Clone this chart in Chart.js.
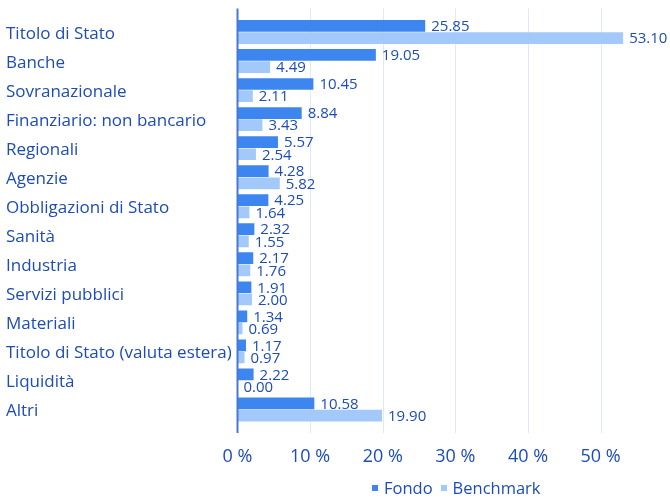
<!DOCTYPE html>
<html>
<head>
<meta charset="utf-8">
<script src="https://cdn.jsdelivr.net/npm/chart.js@4/dist/chart.umd.min.js"></script>
<style>
  html, body { margin: 0; padding: 0; background: #fff; }
  #wrap { position: relative; width: 670px; height: 498px; }
  #legend { position: absolute; left: 372px; top: 477px; }
  #legend ul { list-style: none; margin: 0; padding: 0; display: flex; }
</style>
</head>
<body>
<div id="wrap">
  <canvas id="chart" width="670" height="498"></canvas>
  <div id="legend"><ul></ul></div>
</div>
<script>
// Data
const categories = [
  'Titolo di Stato', 'Banche', 'Sovranazionale', 'Finanziario: non bancario',
  'Regionali', 'Agenzie', 'Obbligazioni di Stato', 'Sanità', 'Industria',
  'Servizi pubblici', 'Materiali', 'Titolo di Stato (valuta estera)', 'Liquidità', 'Altri',
];
const fondo = [25.85, 19.05, 10.45, 8.84, 5.57, 4.28, 4.25, 2.32, 2.17, 1.91, 1.34, 1.17, 2.22, 10.58];
const benchmark = [53.10, 4.49, 2.11, 3.43, 2.54, 5.82, 1.64, 1.55, 1.76, 2.00, 0.69, 0.97, 0.00, 19.90];
const xTicks = [0, 10, 20, 30, 40, 50];

const textColor = '#1d4cb8';
const gridColor = '#dce9fb';
const axisColor = '#4479d6';
const fontFamily = '"Open Sans", "Noto Sans", sans-serif';
const overhang = 9;

const ctx = document.getElementById('chart');

new Chart(ctx, {
  type: 'bar',
  data: {
    labels: categories,
    datasets: [
      // Dark blue bars
      {
        label: 'Fondo',
        data: fondo,
        backgroundColor: '#3d86f0',
        categoryPercentage: 0.84,
        barPercentage: 0.96,
      },
      // Light blue bars
      {
        label: 'Benchmark',
        data: benchmark,
        backgroundColor: '#a3c9fb',
        categoryPercentage: 0.84,
        barPercentage: 0.96,
      },
    ],
  },
  options: {
    indexAxis: 'y',
    responsive: false,
    animation: false,
    layout: {
      padding: { left: 6, right: 4, top: 17.5, bottom: 0 },
    },
    scales: {
      x: {
        min: 0,
        max: 59,
        afterBuildTicks: (scale) => {
          scale.ticks = xTicks.map((v) => ({ value: v }));
        },
        afterFit: (scale) => { scale.height = 74; },
        grid: { display: false, drawTicks: false },
        border: { display: false },
        ticks: {
          color: textColor,
          font: { family: fontFamily, size: 18 },
          padding: 22,
          maxRotation: 0,
          callback: (value) => value + ' %',
        },
      },
      y: {
        afterFit: (scale) => { scale.width = 231.5; },
        grid: { display: false, drawTicks: false },
        border: { display: false },
        ticks: {
          color: textColor,
          crossAlign: 'far',
          labelOffset: 2,
          font: { family: fontFamily, size: 17 },
        },
      },
    },
    plugins: {
      legend: { display: false },
      tooltip: { enabled: false },
      htmlLegend: { containerID: 'legend' },
    },
  },
  plugins: [
    {
      // Grid lines and axis line that run a little past the bars
      id: 'longGrid',
      beforeDatasetsDraw(c) {
        const { ctx: g, chartArea, scales } = c;
        const top = chartArea.top - overhang;
        const bottom = chartArea.bottom + overhang;
        g.save();
        g.strokeStyle = gridColor;
        g.lineWidth = 1;
        xTicks.forEach((v) => {
          if (v === 0) return;
          const x = Math.round(scales.x.getPixelForValue(v)) + 0.5;
          g.beginPath();
          g.moveTo(x, top);
          g.lineTo(x, bottom);
          g.stroke();
        });
        g.restore();
      },
      afterDatasetsDraw(c) {
        const { ctx: g, chartArea, scales } = c;
        const x = scales.x.getPixelForValue(0);
        g.save();
        g.strokeStyle = axisColor;
        g.lineWidth = 2;
        g.beginPath();
        g.moveTo(x, chartArea.top - overhang);
        g.lineTo(x, chartArea.bottom + overhang);
        g.stroke();
        g.restore();
      },
    },
    {
      // Value labels at bar ends
      id: 'valueLabels',
      afterDraw(c) {
        const g = c.ctx;
        g.save();
        g.fillStyle = textColor;
        g.font = '15px ' + fontFamily;
        g.textAlign = 'left';
        g.textBaseline = 'middle';
        c.data.datasets.forEach((ds, i) => {
          c.getDatasetMeta(i).data.forEach((bar, j) => {
            g.fillText(ds.data[j].toFixed(2), bar.x + 6, bar.y + 1);
          });
        });
        g.restore();
      },
    },
    {
      id: 'htmlLegend',
      afterUpdate(c, args, options) {
        const legendContainer = document.getElementById(options.containerID);
        const ul = legendContainer.querySelector('ul');
        if (!ul) return;
        while (ul.firstChild) {
          ul.firstChild.remove();
        }
        c.data.datasets.forEach((ds, i) => {
          const li = document.createElement('li');
          li.style.display = 'inline-flex';
          li.style.alignItems = 'center';
          li.style.marginRight = i === 0 ? '8px' : '0';
          // Color box
          const box = document.createElement('span');
          box.style.display = 'block';
          box.style.width = '6px';
          box.style.height = '6px';
          box.style.background = ds.backgroundColor;
          box.style.marginRight = '6px';
          // Label
          const label = document.createElement('span');
          label.style.color = textColor;
          label.style.fontFamily = fontFamily;
          label.style.fontSize = '16.5px';
          label.style.lineHeight = '22px';
          label.appendChild(document.createTextNode(ds.label));
          li.appendChild(box);
          li.appendChild(label);
          ul.appendChild(li);
        });
      },
    },
  ],
});
</script>
</body>
</html>
